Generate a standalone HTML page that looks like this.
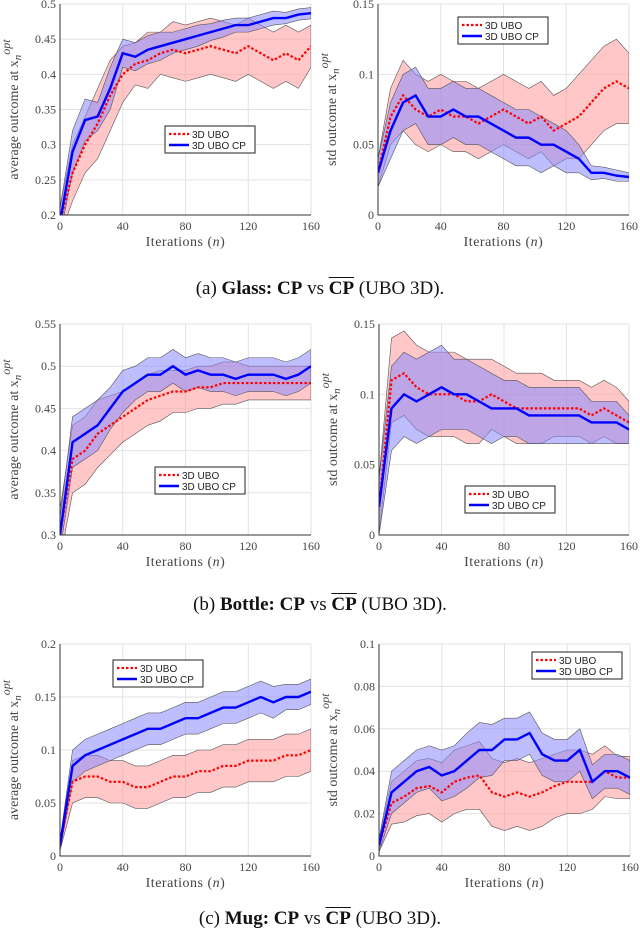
<!DOCTYPE html>
<html><head><meta charset="utf-8">
<style>
body{margin:0;background:#fff;width:640px;height:941px;overflow:hidden;font-family:"Liberation Serif",serif}
svg{position:absolute;left:0;top:0}
.cap{position:absolute;width:640px;text-align:center;font-size:19px;color:#111}
.ov{text-decoration:overline}
</style></head><body>
<svg id="fig" width="640" height="941"></svg>
<div class="cap" style="top:278px">(a) <b>Glass:</b> <b>CP</b> vs <b class="ov">CP</b> (UBO 3D).</div>
<div class="cap" style="top:594px">(b) <b>Bottle:</b> <b>CP</b> vs <b class="ov">CP</b> (UBO 3D).</div>
<div class="cap" style="top:908px">(c) <b>Mug:</b> <b>CP</b> vs <b class="ov">CP</b> (UBO 3D).</div>
<script>
const iters=[0,8,16,24,32,40,48,56,64,72,80,88,96,104,112,120,128,136,144,152,160];
const xTicks=[0,40,80,120,160];
// Glass avg
const gaU=[0.19,0.26,0.30,0.33,0.37,0.40,0.415,0.42,0.43,0.435,0.43,0.435,0.44,0.435,0.43,0.44,0.43,0.42,0.43,0.42,0.44];
const gaUh=[.02,.04,.04,.05,.05,.04,.03,.04,.03,.04,.04,.04,.04,.04,.04,.04,.04,.04,.04,.04,.03];
const gaC=[0.19,0.29,0.335,0.34,0.38,0.43,0.425,0.435,0.44,0.445,0.45,0.455,0.46,0.465,0.47,0.47,0.475,0.48,0.48,0.485,0.487];
const gaCh=[.02,.03,.03,.02,.03,.02,.02,.02,.02,.015,.015,.015,.012,.012,.01,.01,.01,.01,.008,.008,.008];
// Glass std
const gsU=[0.03,0.07,0.085,0.075,0.07,0.075,0.07,0.07,0.065,0.07,0.075,0.07,0.065,0.07,0.06,0.065,0.07,0.08,0.09,0.095,0.09];
const gsUh=[.01,.02,.025,.025,.025,.025,.025,.025,.025,.025,.025,.025,.025,.025,.025,.025,.03,.03,.03,.03,.025];
const gsC=[0.03,0.06,0.08,0.085,0.07,0.07,0.075,0.07,0.07,0.065,0.06,0.055,0.055,0.05,0.05,0.045,0.04,0.03,0.03,0.028,0.027];
const gsCh=[.01,.02,.02,.02,.02,.02,.02,.02,.02,.02,.02,.02,.02,.02,.015,.015,.01,.005,.004,.004,.003];
// Bottle avg
const baU=[0.30,0.39,0.40,0.42,0.43,0.44,0.45,0.46,0.465,0.47,0.47,0.475,0.475,0.48,0.48,0.48,0.48,0.48,0.48,0.48,0.48];
const baUh=[.03,.04,.04,.04,.035,.03,.03,.03,.03,.025,.025,.025,.025,.025,.025,.02,.02,.02,.02,.02,.02];
const baC=[0.30,0.41,0.42,0.43,0.45,0.47,0.48,0.49,0.49,0.50,0.49,0.495,0.49,0.49,0.485,0.49,0.49,0.49,0.485,0.49,0.50];
const baCh=[.02,.03,.03,.03,.025,.025,.02,.02,.02,.02,.02,.02,.02,.02,.02,.02,.02,.02,.02,.02,.02];
// Bottle std
const bsU=[0.02,0.11,0.115,0.105,0.10,0.10,0.10,0.095,0.095,0.10,0.095,0.09,0.09,0.09,0.09,0.09,0.09,0.085,0.09,0.085,0.08];
const bsUh=[.02,.03,.03,.03,.03,.03,.03,.03,.03,.025,.025,.025,.025,.025,.02,.02,.02,.02,.02,.02,.015];
const bsC=[0.02,0.09,0.10,0.095,0.10,0.105,0.10,0.10,0.095,0.09,0.09,0.09,0.085,0.085,0.085,0.085,0.085,0.08,0.08,0.08,0.075];
const bsCh=[.02,.03,.03,.03,.03,.03,.025,.025,.025,.025,.02,.02,.02,.02,.02,.02,.02,.015,.015,.015,.01];
// Mug avg
const maU=[0.01,0.07,0.075,0.075,0.07,0.07,0.065,0.065,0.07,0.075,0.075,0.08,0.08,0.085,0.085,0.09,0.09,0.09,0.095,0.095,0.10];
const maUh=[.005,.02,.02,.02,.02,.02,.02,.02,.02,.02,.02,.02,.02,.02,.02,.02,.02,.02,.02,.02,.02];
const maC=[0.01,0.085,0.095,0.10,0.105,0.11,0.115,0.12,0.12,0.125,0.13,0.13,0.135,0.14,0.14,0.145,0.15,0.145,0.15,0.15,0.155];
const maCh=[.005,.015,.015,.015,.015,.015,.015,.015,.015,.015,.015,.015,.015,.015,.015,.015,.015,.015,.012,.012,.012];
// Mug std
const msU=[0.005,0.025,0.028,0.032,0.033,0.03,0.035,0.037,0.038,0.03,0.028,0.03,0.028,0.03,0.033,0.035,0.035,0.035,0.04,0.037,0.037];
const msUh=[.003,.01,.012,.013,.013,.014,.015,.015,.016,.016,.016,.016,.016,.016,.015,.015,.015,.013,.012,.01,.01];
const msC=[0.005,0.03,0.035,0.04,0.042,0.038,0.04,0.045,0.05,0.05,0.055,0.055,0.058,0.048,0.045,0.045,0.05,0.035,0.04,0.04,0.037];
const msCh=[.003,.01,.01,.01,.01,.012,.012,.013,.013,.012,.01,.01,.01,.01,.01,.01,.01,.008,.008,.008,.008];

const ticksA=[0.2,0.25,0.3,0.35,0.4,0.45,0.5];
const ticksS15=[0,0.05,0.1,0.15];
const ticksB=[0.3,0.35,0.4,0.45,0.5,0.55];
const ticksC=[0,0.05,0.1,0.15,0.2];
const ticksS10=[0,0.02,0.04,0.06,0.08,0.1];

const NS="http://www.w3.org/2000/svg";
const svg=document.getElementById('fig');
function mk(tag,attrs,parent){const e=document.createElementNS(NS,tag);for(const k in attrs)e.setAttribute(k,attrs[k]);(parent||svg).appendChild(e);return e;}

function panel(p){
  const g=mk('g',{});
  
  
  const sx=v=>p.x0+(v-0)/(160)*(p.x1-p.x0);
  const sy=v=>p.yb-(v-p.ymin)/(p.ymax-p.ymin)*(p.yb-p.yt);
  xTicks.forEach(t=>{const l=mk('line',{x1:sx(t),x2:sx(t),y1:p.yt,y2:p.yb,stroke:'#e2e2e2','stroke-width':1},g);
    });
  p.ticks.forEach(t=>{const l=mk('line',{x1:p.x0,x2:p.x1,y1:sy(t),y2:sy(t),stroke:'#e2e2e2','stroke-width':1},g);
    });
  const clip=mk('clipPath',{id:'c'+p.name},g);mk('rect',{x:p.x0,y:p.yt,width:p.x1-p.x0,height:p.yb-p.yt},clip);
  const cg=mk('g',{'clip-path':'url(#c'+p.name+')'},g);
  function band(m,h,fill,name){
    let pts=iters.map((n,i)=>sx(n)+','+sy(m[i]+h[i]));
    pts=pts.concat(iters.map((n,i)=>sx(n)+','+sy(m[i]-h[i])).reverse());
    const b=mk('polygon',{points:pts.join(' '),fill:fill,'fill-opacity':0.55,stroke:'#555','stroke-width':0.6},cg);
    
  }
  band(p.U,p.Uh,'#f99','band-3d-ubo');
  band(p.C,p.Ch,'#88f','band-3d-ubo-cp');
  const lu=mk('polyline',{points:iters.map((n,i)=>sx(n)+','+sy(p.U[i])).join(' '),fill:'none',stroke:'#f00','stroke-width':2.2,'stroke-dasharray':'2.5,2'},cg);
  
  const lc=mk('polyline',{points:iters.map((n,i)=>sx(n)+','+sy(p.C[i])).join(' '),fill:'none',stroke:'#00f','stroke-width':2.4},cg);
  
  const ax=mk('path',{d:`M${p.x0},${p.yt}V${p.yb}H${p.x1}`,fill:'none',stroke:'#333','stroke-width':1},g);
  
  p.ticks.forEach(t=>{const tx=mk('text',{x:p.x0-4,y:sy(t)+4,'text-anchor':'end','font-size':12,fill:'#444','font-family':'Liberation Serif, serif'},g);
    tx.textContent=String(t);});
  xTicks.forEach(t=>{const tx=mk('text',{x:sx(t),y:p.yb+15,'text-anchor':'middle','font-size':12,fill:'#444','font-family':'Liberation Serif, serif'},g);
    tx.textContent=String(t);});
  const xl=mk('text',{x:(p.x0+p.x1)/2,y:p.yb+31,'text-anchor':'middle','font-size':14,fill:'#444','font-family':'Liberation Serif, serif','letter-spacing':'0.5'},g);
  xl.innerHTML='Iterations (<tspan font-style="italic">n</tspan>)';
  
  const cy=(p.yt+p.yb)/2;
  const yl=mk('text',{x:0,y:0,transform:`translate(${p.x0-42},${cy}) rotate(-90)`,'text-anchor':'middle','font-size':14,fill:'#444','font-family':'Liberation Serif, serif'},g);
  yl.innerHTML=p.ylab+' at x<tspan font-style="italic" font-size="11" dy="3">n</tspan><tspan font-style="italic" font-size="12" dy="-11">opt</tspan>';
  
  const L=mk('g',{},g);
  mk('rect',{x:p.lx,y:p.ly,width:90,height:27,fill:'#fff',stroke:'#222','stroke-width':1},L);
  mk('line',{x1:p.lx+4,x2:p.lx+24,y1:p.ly+8,y2:p.ly+8,stroke:'#f00','stroke-width':2.2,'stroke-dasharray':'2.5,2'},L);
  mk('line',{x1:p.lx+4,x2:p.lx+24,y1:p.ly+19,y2:p.ly+19,stroke:'#00f','stroke-width':2.4},L);
  const t1=mk('text',{x:p.lx+27,y:p.ly+12,'font-size':10,fill:'#222','font-family':'Liberation Sans, sans-serif'},L);t1.textContent='3D UBO';
  
  const t2=mk('text',{x:p.lx+27,y:p.ly+23,'font-size':10,fill:'#222','font-family':'Liberation Sans, sans-serif'},L);t2.textContent='3D UBO CP';
  
}
panel({name:'glass-average',x0:60,x1:311,yt:4,yb:215,ymin:0.2,ymax:0.5,ticks:ticksA,U:gaU,Uh:gaUh,C:gaC,Ch:gaCh,ylab:'average outcome',lx:165,ly:126});
panel({name:'glass-std',x0:378,x1:629,yt:4,yb:215,ymin:0,ymax:0.15,ticks:ticksS15,U:gsU,Uh:gsUh,C:gsC,Ch:gsCh,ylab:'std outcome',lx:458,ly:17});
panel({name:'bottle-average',x0:60,x1:311,yt:324,yb:535,ymin:0.3,ymax:0.55,ticks:ticksB,U:baU,Uh:baUh,C:baC,Ch:baCh,ylab:'average outcome',lx:155,ly:467});
panel({name:'bottle-std',x0:379,x1:629,yt:324,yb:535,ymin:0,ymax:0.15,ticks:ticksS15,U:bsU,Uh:bsUh,C:bsC,Ch:bsCh,ylab:'std outcome',lx:465,ly:486});
panel({name:'mug-average',x0:60,x1:311,yt:644,yb:856,ymin:0,ymax:0.2,ticks:ticksC,U:maU,Uh:maUh,C:maC,Ch:maCh,ylab:'average outcome',lx:113,ly:660});
panel({name:'mug-std',x0:379,x1:630,yt:644,yb:856,ymin:0,ymax:0.1,ticks:ticksS10,U:msU,Uh:msUh,C:msC,Ch:msCh,ylab:'std outcome',lx:532,ly:652});
</script>
</body></html>
